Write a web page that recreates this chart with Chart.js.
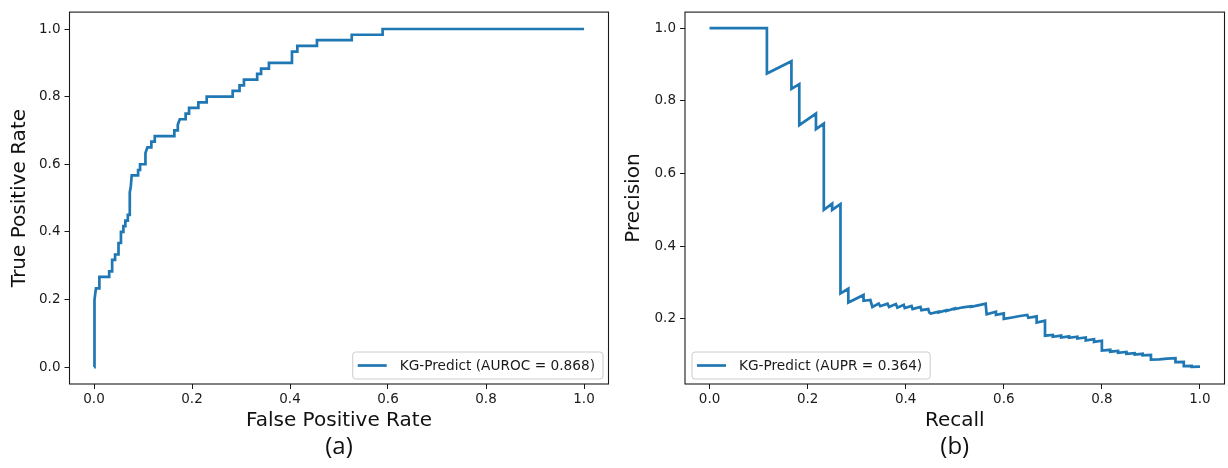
<!DOCTYPE html>
<html>
<head>
<meta charset="utf-8">
<script src="https://cdn.jsdelivr.net/npm/chart.js@4/dist/chart.umd.min.js"></script>
<style>
  html, body { margin: 0; padding: 0; background: #fff; }
  #wrap { position: relative; width: 1228px; height: 468px; overflow: hidden; }
  canvas { position: absolute; top: 0; }
  #rocCanvas { left: 0; }
  #prCanvas { left: 614px; }
</style>
</head>
<body>
<div id="wrap">
  <canvas id="rocCanvas" width="614" height="468"></canvas>
  <canvas id="prCanvas" width="614" height="468"></canvas>
</div>
<script>
// ROC curve (a)
const rocFpr = [0, 0, 0.002, 0.004, 0.011, 0.011, 0.031, 0.031, 0.037, 0.037, 0.043, 0.043,
  0.050, 0.050, 0.055, 0.055, 0.060, 0.060, 0.064, 0.064, 0.069, 0.069, 0.073, 0.073, 0.075,
  0.077, 0.090, 0.090, 0.094, 0.094, 0.105, 0.105, 0.109, 0.117, 0.117, 0.124, 0.124, 0.164,
  0.164, 0.171, 0.171, 0.175, 0.187, 0.187, 0.194, 0.194, 0.213, 0.213, 0.230, 0.230, 0.283,
  0.283, 0.297, 0.297, 0.306, 0.306, 0.333, 0.333, 0.341, 0.341, 0.357, 0.357, 0.404, 0.404,
  0.415, 0.415, 0.455, 0.455, 0.526, 0.526, 0.589, 0.589, 1.0];
const rocTpr = [0, 0.167, 0.200, 0.233, 0.233, 0.267, 0.267, 0.283, 0.283, 0.317, 0.317, 0.333,
  0.333, 0.367, 0.367, 0.400, 0.400, 0.417, 0.417, 0.433, 0.433, 0.450, 0.450, 0.517, 0.533,
  0.567, 0.567, 0.583, 0.583, 0.600, 0.600, 0.633, 0.650, 0.650, 0.667, 0.667, 0.683, 0.683,
  0.700, 0.700, 0.717, 0.733, 0.733, 0.750, 0.750, 0.767, 0.767, 0.783, 0.783, 0.800, 0.800,
  0.817, 0.817, 0.833, 0.833, 0.850, 0.850, 0.867, 0.867, 0.883, 0.883, 0.900, 0.900, 0.933,
  0.933, 0.950, 0.950, 0.967, 0.967, 0.983, 0.983, 1.0, 1.0];

// Precision-recall curve (b)
const prRecall = [0, 0.117, 0.117, 0.167, 0.167, 0.183, 0.183, 0.217, 0.217, 0.233, 0.233,
  0.250, 0.250, 0.267, 0.267, 0.283, 0.283, 0.314, 0.314, 0.328, 0.332, 0.345, 0.348, 0.363,
  0.366, 0.380, 0.383, 0.396, 0.398, 0.412, 0.414, 0.430, 0.432, 0.446, 0.448, 0.451, 0.467,
  0.467, 0.483, 0.483, 0.500, 0.500, 0.517, 0.533, 0.533, 0.550, 0.563, 0.565, 0.584, 0.584,
  0.600, 0.600, 0.617, 0.633, 0.648, 0.650, 0.667, 0.667, 0.684, 0.684, 0.700, 0.700, 0.717,
  0.717, 0.733, 0.733, 0.750, 0.750, 0.767, 0.767, 0.784, 0.784, 0.800, 0.800, 0.817, 0.817,
  0.833, 0.833, 0.850, 0.850, 0.867, 0.867, 0.883, 0.883, 0.900, 0.900, 0.917, 0.933, 0.950,
  0.950, 0.967, 0.967, 0.983, 0.983, 1.0];
const prPrecision = [1.0, 1.0, 0.875, 0.909, 0.833, 0.846, 0.733, 0.765, 0.722, 0.737, 0.500,
  0.517, 0.500, 0.516, 0.270, 0.283, 0.245, 0.266, 0.250, 0.252, 0.233, 0.242, 0.235, 0.242,
  0.233, 0.241, 0.231, 0.239, 0.230, 0.236, 0.227, 0.233, 0.224, 0.227, 0.218, 0.215, 0.220,
  0.218, 0.224, 0.222, 0.229, 0.227, 0.232, 0.235, 0.233, 0.238, 0.242, 0.213, 0.220, 0.211,
  0.215, 0.200, 0.204, 0.208, 0.211, 0.203, 0.207, 0.190, 0.195, 0.154, 0.156, 0.151, 0.154,
  0.149, 0.152, 0.148, 0.151, 0.146, 0.149, 0.141, 0.144, 0.137, 0.140, 0.113, 0.115, 0.110,
  0.112, 0.107, 0.109, 0.104, 0.106, 0.102, 0.104, 0.100, 0.101, 0.088, 0.089, 0.091, 0.092,
  0.081, 0.082, 0.070, 0.071, 0.068, 0.069];

const unitTicks = [0, 0.2, 0.4, 0.6, 0.8, 1.0];
const prYTicks = [0.2, 0.4, 0.6, 0.8, 1.0];

const rocLegend = 'KG-Predict (AUROC = 0.868)';
const prLegend = 'KG-Predict (AUPR = 0.364)';

const lineColor = '#1f77b4';
const inkColor = '#1a1a1a';
const tickFont = { family: 'DejaVu Sans', size: 13.5 };
const labelFont = { family: 'DejaVu Sans', size: 20 };

// frame, inside legend and panel letter
const panelDecor = {
    id: 'panelDecor',
    afterDraw(chart, args, opts) {
        const ctx = chart.ctx;
        const a = chart.chartArea;
        ctx.save();
        ctx.strokeStyle = inkColor;
        ctx.lineWidth = 1.1;
        ctx.strokeRect(a.left, a.top, a.right - a.left, a.bottom - a.top);

        ctx.font = '13.7px "DejaVu Sans"';
        const tw = ctx.measureText(opts.text).width;
        const w = 5 + 29 + 13 + tw + 8;
        const h = 27;
        const x0 = opts.side === 'right' ? a.right - 5.5 - w : a.left + 7;
        const y0 = a.bottom - 5 - h;
        ctx.beginPath();
        ctx.roundRect(x0, y0, w, h, 3);
        ctx.fillStyle = 'rgba(255,255,255,0.8)';
        ctx.fill();
        ctx.strokeStyle = '#cccccc';
        ctx.lineWidth = 1;
        ctx.stroke();
        ctx.beginPath();
        ctx.moveTo(x0 + 5, y0 + h / 2);
        ctx.lineTo(x0 + 34, y0 + h / 2);
        ctx.strokeStyle = lineColor;
        ctx.lineWidth = 2.7;
        ctx.stroke();
        ctx.fillStyle = inkColor;
        ctx.textBaseline = 'middle';
        ctx.textAlign = 'left';
        ctx.fillText(opts.text, x0 + 47, y0 + h / 2 + 0.5);

        ctx.font = '24px "Open Sans"';
        ctx.textAlign = 'center';
        ctx.fillStyle = '#111';
        ctx.fillText(opts.letter, (a.left + a.right) / 2, 447);
        ctx.restore();
    }
};

function makePanel(canvasId, xs, ys, cfg) {
    const points = xs.map((x, i) => ({ x: x, y: ys[i] }));
    return new Chart(document.getElementById(canvasId), {
        type: 'line',
        data: {
            datasets: [{
                data: points,
                borderColor: lineColor,
                borderWidth: 2.7,
                pointRadius: 0,
                tension: 0,
                fill: false
            }]
        },
        options: {
            responsive: false,
            animation: false,
            devicePixelRatio: 1,
            layout: { padding: { left: 0, top: 9, right: cfg.padRight, bottom: 0 } },
            plugins: {
                legend: { display: false },
                tooltip: { enabled: false },
                panelDecor: { text: cfg.legend, side: cfg.legendSide, letter: cfg.letter }
            },
            scales: {
                x: {
                    type: 'linear',
                    min: -0.05, max: 1.05,
                    afterBuildTicks: s => { s.ticks = unitTicks.map(v => ({ value: v })); },
                    afterFit: s => { s.height = 84; },
                    ticks: { color: inkColor, font: tickFont, padding: 2,
                             callback: v => v.toFixed(1) },
                    grid: { drawOnChartArea: false, tickLength: 5, color: inkColor, lineWidth: 1 },
                    border: { display: false },
                    title: { display: true, text: cfg.xLabel, color: '#111', font: labelFont,
                             padding: { top: 0, bottom: 35 } }
                },
                y: {
                    type: 'linear',
                    min: cfg.yMin, max: cfg.yMax,
                    afterBuildTicks: s => { s.ticks = cfg.yTicks.map(v => ({ value: v })); },
                    afterFit: s => { s.width = cfg.yWidth; },
                    ticks: { color: inkColor, font: tickFont, padding: 4,
                             callback: v => v.toFixed(1) },
                    grid: { drawOnChartArea: false, tickLength: 5, color: inkColor, lineWidth: 1 },
                    border: { display: false },
                    title: { display: true, text: cfg.yLabel, color: '#111', font: labelFont,
                             padding: { top: 8, bottom: 0 } }
                }
            }
        },
        plugins: [panelDecor]
    });
}

makePanel('rocCanvas', rocFpr, rocTpr, {
    xLabel: 'False Positive Rate', yLabel: 'True Positive Rate',
    yMin: -0.05, yMax: 1.05, yTicks: unitTicks, yWidth: 69.5, padRight: 5.5,
    legend: rocLegend, legendSide: 'right', letter: '(a)'
});

makePanel('prCanvas', prRecall, prPrecision, {
    xLabel: 'Recall', yLabel: 'Precision',
    yMin: 0.021, yMax: 1.044, yTicks: prYTicks, yWidth: 71, padRight: 3.5,
    legend: prLegend, legendSide: 'left', letter: '(b)'
});
</script>
</body>
</html>
